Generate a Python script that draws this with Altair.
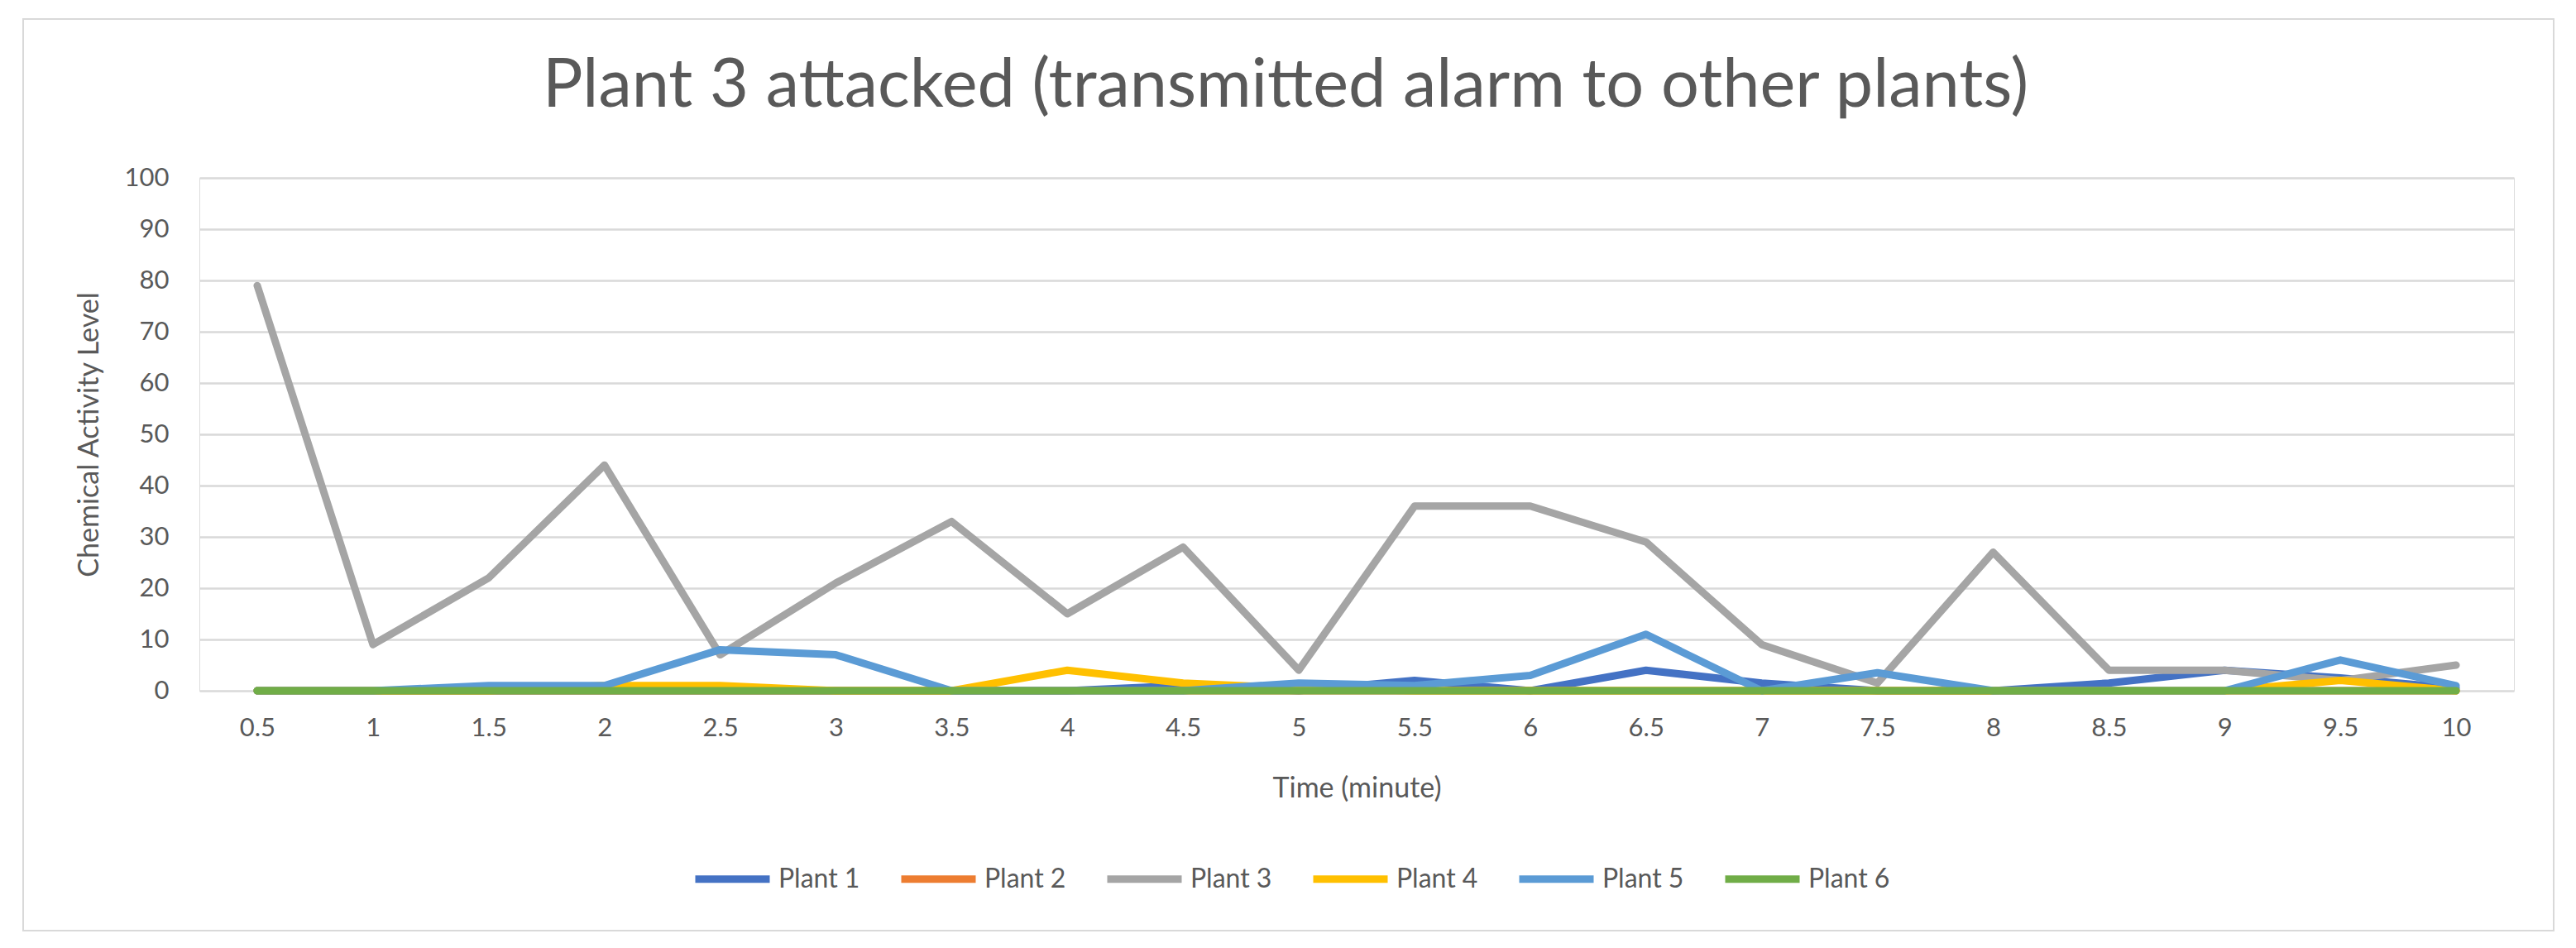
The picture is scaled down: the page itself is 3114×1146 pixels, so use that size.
import altair as alt
import pandas as pd

times = ["0.5", "1", "1.5", "2", "2.5", "3", "3.5", "4", "4.5", "5",
         "5.5", "6", "6.5", "7", "7.5", "8", "8.5", "9", "9.5", "10"]
series = ["Plant 1", "Plant 2", "Plant 3", "Plant 4", "Plant 5", "Plant 6"]
colors = ["#4472C4", "#ED7D31", "#A5A5A5", "#FFC000", "#5B9BD5", "#70AD47"]

plant1 = [0, 0, 0, 0, 0, 0, 0, 0, 1, 0, 2, 0, 4, 1.5, 0, 0, 1.5, 4, 2.5, 0.5]
plant2 = [0, 0, 0, 0, 0, 0, 0, 0, 0, 0, 0, 0, 0, 0, 0, 0, 0, 0, 0, 0]
plant3 = [79, 9, 22, 44, 7, 21, 33, 15, 28, 4, 36, 36, 29, 9, 1.5, 27, 4, 4, 2, 5]
plant4 = [0, 0, 0, 1, 1, 0, 0, 4, 1.5, 0.5, 0, 0, 0, 0, 0, 0, 0, 0, 2, 0]
plant5 = [0, 0, 1, 1, 8, 7, 0, 0, 0, 1.5, 1, 3, 11, 0, 3.5, 0, 0, 0, 6, 1]
plant6 = [0, 0, 0, 0, 0, 0, 0, 0, 0, 0, 0, 0, 0, 0, 0, 0, 0, 0, 0, 0]

values = [plant1, plant2, plant3, plant4, plant5, plant6]
rows = []
for s, vals in zip(series, values):
    for t, v in zip(times, vals):
        rows.append({"Time": t, "Series": s, "Value": v})
df = pd.DataFrame(rows)

FONT = "Lato"
TXT = "#595959"
W, H = 2798, 620

base = alt.Chart(df).mark_line(strokeWidth=9, strokeCap="round", strokeJoin="round").encode(
    x=alt.X("Time:O", sort=times,
            scale=alt.Scale(type="point", padding=0.5),
            axis=alt.Axis(title="Time (minute)", labelAngle=0, domain=False, ticks=False,
                          tickSize=0, labelPadding=30, labelFontSize=31, labelColor=TXT,
                          labelFont=FONT, titleFont=FONT, titleFontSize=34, titleColor=TXT,
                          titleFontWeight="normal", titleY=128, titleBaseline="alphabetic",
                          grid=False)),
    y=alt.Y("Value:Q", scale=alt.Scale(domain=[0, 100], nice=False),
            axis=alt.Axis(title="Chemical Activity Level", values=list(range(0, 101, 10)),
                          domain=False, ticks=False, tickSize=0, labelPadding=37,
                          labelFontSize=31, labelColor=TXT, labelFont=FONT,
                          titleFont=FONT, titleFontSize=34, titleColor=TXT,
                          titleFontWeight="normal", titleX=-133, titleY=H / 2,
                          titleBaseline="middle",
                          grid=True, gridColor="#D9D9D9", gridWidth=2.5)),
    color=alt.Color("Series:N", scale=alt.Scale(domain=series, range=colors),
                    legend=alt.Legend(title=None, orient="none", direction="horizontal",
                                      legendX=595, legendY=798, symbolType="stroke",
                                      symbolSize=8100, symbolStrokeWidth=9,
                                      labelFont=FONT, labelFontSize=32, labelColor=TXT,
                                      labelOffset=6, columnPadding=31, columns=6)),
)

layers = [base.transform_filter(alt.datum.Series == s) for s in series]

border = alt.Chart(pd.DataFrame({"a": [0]})).mark_rect(
    fill=None, stroke="#D9D9D9", strokeWidth=2
).encode(
    x=alt.value(28 - 241), x2=alt.value(3087 - 241),
    y=alt.value(23 - 215), y2=alt.value(1125 - 215),
)

chart = alt.layer(border, *layers).properties(
    width=W, height=H,
    title=alt.Title("Plant 3 attacked (transmitted alarm to other plants)",
                    font=FONT, fontSize=81, fontWeight="normal", color=TXT,
                    anchor="middle", frame="group", dx=-86, offset=0, dy=188,
                    baseline="alphabetic"),
    autosize=alt.AutoSizeParams(type="none"),
    padding={"left": 233, "top": 207, "right": 59, "bottom": 303},
).configure_view(stroke=None).configure(background="white")

chart.save("out.html", embed_options={"renderer": "svg", "actions": False})
